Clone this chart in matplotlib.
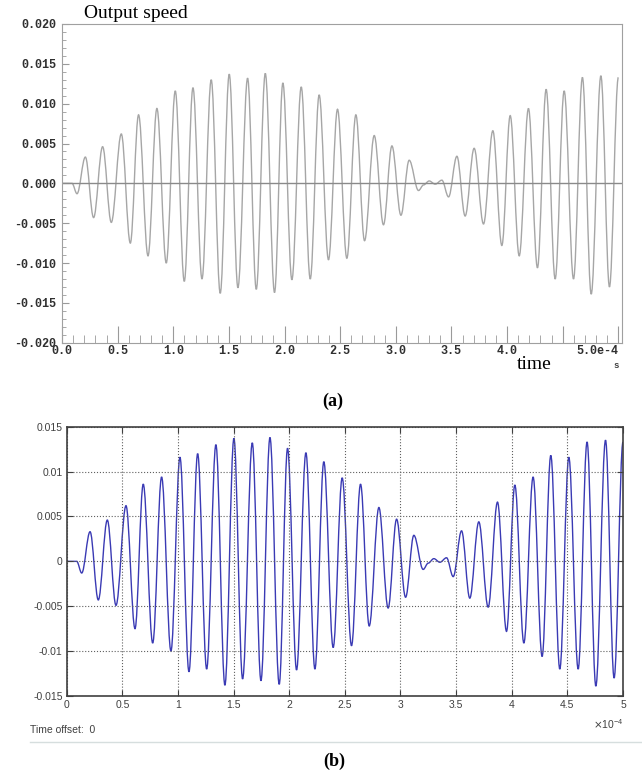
import numpy as np
import matplotlib.pyplot as plt
from matplotlib.path import Path
from matplotlib.patches import PathPatch
from matplotlib.ticker import MultipleLocator

# extrema of the output speed trace
t_us = np.array([0, 0.09, 0.135, 0.21, 0.284, 0.365, 0.443, 0.533, 0.614, 0.688,
                 0.773, 0.853, 0.937, 1.018, 1.099, 1.177, 1.258, 1.341, 1.422, 1.503,
                 1.581, 1.668, 1.746, 1.827, 1.910, 1.985, 2.066, 2.150, 2.231, 2.311,
                 2.395, 2.476, 2.560, 2.641, 2.719, 2.806, 2.889, 2.965, 3.046, 3.120,
                 3.204, 3.249, 3.300, 3.354, 3.414, 3.474, 3.549, 3.623, 3.704, 3.788,
                 3.872, 3.953, 4.028, 4.109, 4.192, 4.273, 4.351, 4.432, 4.513, 4.597,
                 4.677, 4.756, 4.843, 4.920, 5.0])  # x 1e-4 s
speed_m = np.array([0, 0, -1.3, 3.3, -4.3, 4.6, -4.9, 6.2, -7.5, 8.6,
                    -9.1, 9.4, -10.0, 11.6, -12.3, 12.0, -12.0, 13.0, -13.8, 13.7,
                    -13.1, 13.2, -13.3, 13.8, -13.7, 12.6, -12.1, 12.1, -12.0, 11.1,
                    -9.6, 9.3, -9.4, 8.6, -7.2, 6.0, -5.2, 4.7, -4.0, 2.9,
                    -0.9, -0.2, 0.3, -0.1, 0.4, -1.7, 3.4, -4.1, 4.4, -5.1,
                    6.6, -7.8, 8.5, -9.1, 9.4, -10.6, 11.8, -12.0, 11.6, -12.0,
                    13.3, -13.9, 13.5, -13.0, 13.3])  # x 1e-3

a_xticks = [0, 0.5, 1.0, 1.5, 2.0, 2.5, 3.0, 3.5, 4.0, 4.5, 5.0]
a_xlabels = ['0.0', '0.5', '1.0', '1.5', '2.0', '2.5', '3.0', '3.5', '4.0', '', '5.0e-4']
a_yticks = [-0.02, -0.015, -0.01, -0.005, 0, 0.005, 0.01, 0.015, 0.02]
b_xlabels = ['0', '0.5', '1', '1.5', '2', '2.5', '3', '3.5', '4', '4.5', '5']
b_yticks = [-0.015, -0.01, -0.005, 0, 0.005, 0.01, 0.015]
b_ylabels = ['-0.015', '-0.01', '-0.005', '0', '0.005', '0.01', '0.015']

t = t_us * 1e-4
v = speed_m * 1e-3


def wave_path(x, y, k=0.36):
    # smooth curve through the extrema, flat tangent at each peak/trough
    verts = [(x[0], y[0])]
    codes = [Path.MOVETO]
    for i in range(len(x) - 1):
        dx = x[i + 1] - x[i]
        verts += [(x[i] + k * dx, y[i]), (x[i + 1] - k * dx, y[i + 1]), (x[i + 1], y[i + 1])]
        codes += [Path.CURVE4] * 3
    return Path(verts, codes)


W, H = 642, 777
fig = plt.figure(figsize=(W / 100, H / 100), dpi=100)

# ---- panel (a)
ax1 = fig.add_axes([62 / W, 1 - 342.7 / H, 559.7 / W, 318.7 / H])
ax1.add_patch(PathPatch(wave_path(t, v), fill=False, edgecolor='#a6a6a6', lw=1.0))
ax1.axhline(0, color='#8a8a8a', lw=1.0)
ax1.set_xlim(0, 5.03e-4)
ax1.set_ylim(-0.02, 0.02)
for s in ax1.spines.values():
    s.set_color('#a0a0a0')
ax1.set_xticks(np.array(a_xticks) * 1e-4)
ax1.set_xticklabels(a_xlabels)
ax1.xaxis.set_minor_locator(MultipleLocator(0.1e-4))
ax1.set_yticks(a_yticks)
ax1.set_yticklabels([f'{y:.3f}' for y in a_yticks])
ax1.yaxis.set_minor_locator(MultipleLocator(0.001))
ax1.tick_params(which='both', direction='in', color='#9a9a9a', labelcolor='#303030')
ax1.tick_params(axis='x', which='major', length=12, pad=2)
ax1.tick_params(axis='x', which='minor', length=6)
ax1.tick_params(axis='y', which='major', length=5, pad=4)
ax1.tick_params(axis='y', which='minor', length=3)
for lab in ax1.get_xticklabels() + ax1.get_yticklabels():
    lab.set_family('Liberation Mono')
    lab.set_weight('bold')
    lab.set_size(8.5)
ax1.get_xticklabels()[-1].set_ha('right')

fig.text(84 / W, 1 - 18.5 / H, 'Output speed', family='Liberation Serif', size=14,
         va='baseline')
fig.text(517 / W, 1 - 369 / H, 'time', family='Liberation Serif', size=14,
         va='baseline')
fig.text(613 / W, 1 - 368 / H, 's', family='Liberation Mono', weight='bold', size=6.5,
         color='#404040', va='baseline')
fig.text(333 / W, 1 - 406 / H, '(a)', family='Liberation Serif', weight='bold', size=13,
         ha='center', va='baseline')

# ---- panel (b)
ax2 = fig.add_axes([66.7 / W, 1 - 696 / H, 556.3 / W, 269.3 / H])
ax2.add_patch(PathPatch(wave_path(t, v), fill=False, edgecolor='#3a3ab4', lw=1.0))
ax2.set_xlim(0, 5e-4)
ax2.set_ylim(-0.015, 0.015)
ax2.set_xticks(np.array(a_xticks) * 1e-4)
ax2.set_xticklabels(b_xlabels)
ax2.set_yticks(b_yticks)
ax2.set_yticklabels(b_ylabels)
ax2.grid(True, ls=':', color='#606060', lw=0.8)
for s in ax2.spines.values():
    s.set_color('#404040')
    s.set_linewidth(1.2)
ax2.tick_params(direction='in', top=True, right=True, length=4, color='#404040',
                labelcolor='#404040', labelsize=7.5, pad=3)
for lab in ax2.get_xticklabels() + ax2.get_yticklabels():
    lab.set_family('Liberation Sans')

fig.text(30 / W, 1 - 733 / H, 'Time offset:  0', family='Liberation Sans', size=7.5,
         color='#404040', va='baseline')
fig.text(593 / W, 1 - 729 / H, r'$\times\mathregular{10^{-4}}$', family='Liberation Sans',
         size=7.5, color='#404040', va='baseline')
fig.add_artist(plt.Line2D([30 / W, 1], [1 - 742.3 / H] * 2, color='#d6dede', lw=1))
fig.text(334 / W, 1 - 766 / H, '(b)', family='Liberation Serif', weight='bold', size=13,
         ha='center', va='baseline')

fig.savefig('out.png', dpi=100, facecolor='white')
